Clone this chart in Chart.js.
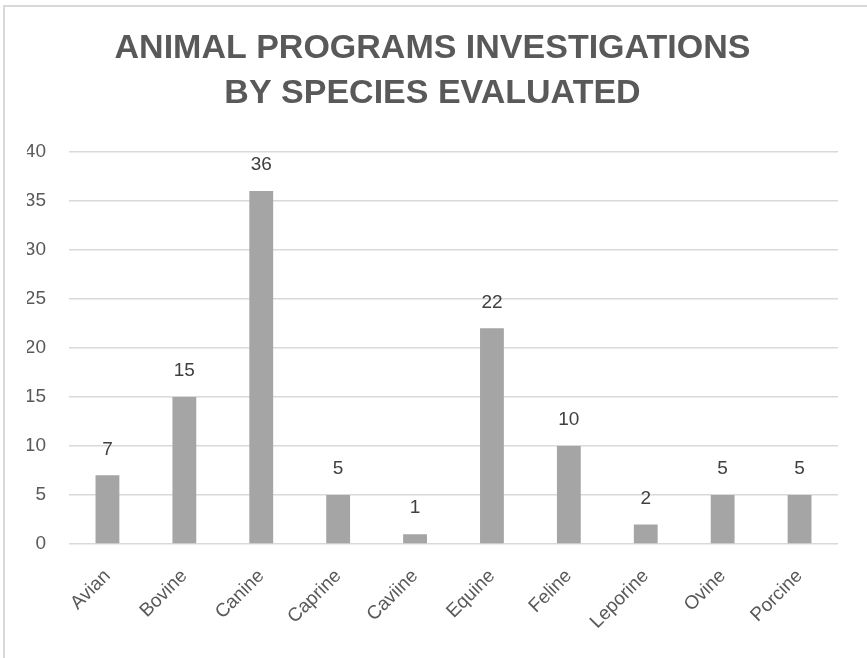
<!DOCTYPE html>
<html>
<head>
<meta charset="utf-8">
<script src="https://cdn.jsdelivr.net/npm/chart.js@4"></script>
<style>
  html, body { margin: 0; padding: 0; background: #ffffff; }
  #wrap { position: absolute; left: 0; top: 0; width: 867px; height: 658px; }
</style>
</head>
<body>
<div id="wrap"><canvas id="speciesChart" width="867" height="658"></canvas></div>
<script>
// chart data
const species = ["Avian", "Bovine", "Canine", "Caprine", "Caviine", "Equine", "Feline", "Leporine", "Ovine", "Porcine"];
const investigations = [7, 15, 36, 5, 1, 22, 10, 2, 5, 5];
const titleLines = ["ANIMAL PROGRAMS INVESTIGATIONS", "BY SPECIES EVALUATED"];

const fontFamily = "'Liberation Sans', Arial, sans-serif";

// draws the value above each bar (no datalabels plugin available offline)
const valueLabels = {
  id: "valueLabels",
  afterDatasetsDraw(chart) {
    const ctx = chart.ctx;
    const meta = chart.getDatasetMeta(0);
    ctx.save();
    ctx.font = "19px " + fontFamily;
    ctx.fillStyle = "#404040";
    ctx.textAlign = "center";
    ctx.textBaseline = "middle";
    meta.data.forEach(function (bar, i) {
      ctx.fillText(String(investigations[i]), bar.x, bar.y - 26);
    });
    ctx.restore();
  }
};

// light grey frame round the chart, only top and left show in the picture
const frame = {
  id: "frame",
  beforeDraw(chart) {
    const ctx = chart.ctx;
    ctx.save();
    ctx.strokeStyle = "#d9d9d9";
    ctx.lineWidth = 2;
    ctx.beginPath();
    ctx.moveTo(4, 660);
    ctx.lineTo(4, 6);
    ctx.lineTo(870, 6);
    ctx.stroke();
    ctx.restore();
  }
};

new Chart("speciesChart", {
  type: "bar",
  data: {
    labels: species,
    datasets: [{
      data: investigations,
      backgroundColor: "#a5a5a5",
      barPercentage: 0.62,
      categoryPercentage: 0.5
    }]
  },
  options: {
    responsive: false,
    animation: false,
    // equal side padding keeps the title centred on the canvas
    layout: { padding: { left: 27, right: 29, top: 0, bottom: 0 } },
    plugins: {
      legend: { display: false },
      tooltip: { enabled: false },
      title: {
        display: true,
        text: titleLines,
        color: "#595959",
        font: { family: fontFamily, size: 34, weight: "bold", lineHeight: 1.32 },
        padding: { top: 26, bottom: 36 }
      }
    },
    scales: {
      x: {
        grid: { display: false },
        border: { display: false },
        ticks: {
          color: "#595959",
          font: { family: fontFamily, size: 19 },
          minRotation: 45,
          maxRotation: 45,
          padding: 13
        },
        afterFit(scale) { scale.height = 114; }
      },
      y: {
        min: 0,
        max: 40,
        ticks: {
          stepSize: 5,
          color: "#595959",
          font: { family: fontFamily, size: 19 },
          padding: 23
        },
        grid: { color: "#d9d9d9", lineWidth: 1.5, drawTicks: false },
        border: { display: false },
        afterFit(scale) { scale.width = 42; }
      }
    }
  },
  plugins: [frame, valueLabels]
});
</script>
</body>
</html>
